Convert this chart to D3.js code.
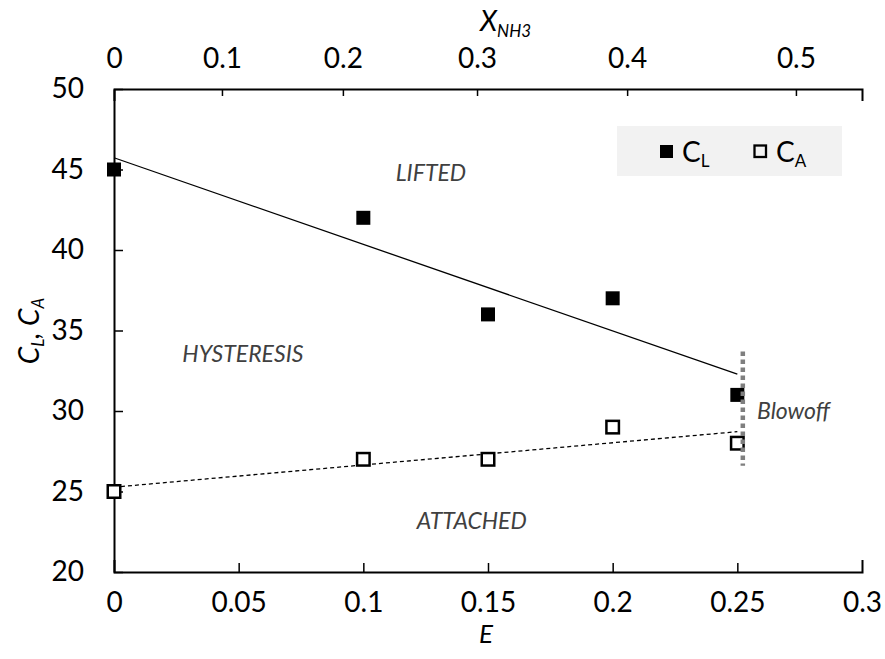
<!DOCTYPE html>
<html>
<head>
<meta charset="utf-8">
<script src="https://cdn.jsdelivr.net/npm/d3@7"></script>
<style>
  html, body { margin: 0; padding: 0; background: #fff; }
  svg { display: block; font-family: Lato, "Open Sans", sans-serif; }
</style>
</head>
<body>
<svg id="chart" width="885" height="659"></svg>
<script>
// ---- data ----
const eValues = [0, 0.1, 0.15, 0.2, 0.25];
const cL = [45, 42, 36, 37, 31];
const cA = [25, 27, 27, 29, 28];
const bottomTicks = [0, 0.05, 0.1, 0.15, 0.2, 0.25, 0.3];
const leftTicks = [20, 25, 30, 35, 40, 45, 50];
const topTickE = [0, 0.0433, 0.0918, 0.1456, 0.2058, 0.2735];   // E position of each X_NH3 tick
const topTickLabels = ["0", "0.1", "0.2", "0.3", "0.4", "0.5"];
const blowoffE = 0.2522;
const blowoffRange = [26.6, 33.7];
const annotations = [
  { text: "LIFTED", e: 0.1271, c: 44.85, anchor: "middle" },
  { text: "HYSTERESIS", e: 0.0517, c: 33.6, anchor: "middle" },
  { text: "ATTACHED", e: 0.1435, c: 23.23, anchor: "middle" },
  { text: "Blowoff", e: 0.2579, c: 30.06, anchor: "start" }
];

// ---- layout ----
const svg = d3.select("#chart");
const pLeft = 114, pRight = 862, pTop = 89, pBottom = 572;
const x = d3.scaleLinear().domain([0, 0.3]).range([pLeft, pRight]);
const y = d3.scaleLinear().domain([20, 50]).range([pBottom, pTop]);

function fit(xs, ys) {
  const mx = d3.mean(xs), my = d3.mean(ys);
  let sxy = 0, sxx = 0;
  xs.forEach((v, i) => { sxy += (v - mx) * (ys[i] - my); sxx += (v - mx) * (v - mx); });
  const b = sxy / sxx;
  return { a: my - b * mx, b };
}

// axes
const gBottom = svg.append("g").attr("transform", `translate(0,${pBottom})`)
  .call(d3.axisBottom(x).tickValues(bottomTicks).tickFormat(d => String(+d.toFixed(2)))
    .tickSizeInner(-9).tickSizeOuter(-12).tickPadding(20));
const gLeft = svg.append("g").attr("transform", `translate(${pLeft},0)`)
  .call(d3.axisLeft(y).tickValues(leftTicks).tickSizeInner(-9).tickSizeOuter(0).tickPadding(30));
const gTop = svg.append("g").attr("transform", `translate(0,${pTop})`)
  .call(d3.axisTop(x).tickValues(topTickE).tickFormat((d, i) => topTickLabels[i])
    .tickSizeInner(-7).tickSizeOuter(-12).tickPadding(21));

[gBottom, gLeft, gTop].forEach(g => {
  g.select(".domain").attr("stroke", "#000").attr("stroke-width", 2);
  g.selectAll(".tick line").attr("stroke", "#000").attr("stroke-width", 1.5);
  g.selectAll(".tick text").attr("fill", "#000").style("font-size", "28px")
    .style("font-family", "Lato, 'Open Sans', sans-serif");
});
gTop.selectAll(".tick").filter((d, i) => i === 0).select("line").remove();
gBottom.selectAll(".tick").filter((d, i) => i === 0 || i === bottomTicks.length - 1).select("line").remove();

// trend lines
const fL = fit(eValues, cL), fA = fit(eValues, cA);
const e0 = d3.min(eValues), e1 = d3.max(eValues);
svg.append("line")
  .attr("x1", x(e0)).attr("y1", y(fL.a + fL.b * e0))
  .attr("x2", x(e1)).attr("y2", y(fL.a + fL.b * e1))
  .attr("stroke", "#000").attr("stroke-width", 1.3);
svg.append("line")
  .attr("x1", x(e0)).attr("y1", y(fA.a + fA.b * e0))
  .attr("x2", x(e1)).attr("y2", y(fA.a + fA.b * e1))
  .attr("stroke", "#000").attr("stroke-width", 1.3).attr("stroke-dasharray", "4,3");

// markers
const s = 14;
svg.append("g").selectAll("rect").data(eValues).join("rect")
  .attr("x", (d) => x(d) - s / 2).attr("y", (d, i) => y(cL[i]) - s / 2)
  .attr("width", s).attr("height", s).attr("fill", "#000");
const so = 12.5;
svg.append("g").selectAll("rect").data(eValues).join("rect")
  .attr("x", (d) => x(d) - so / 2).attr("y", (d, i) => y(cA[i]) - so / 2)
  .attr("width", so).attr("height", so).attr("fill", "#fff")
  .attr("stroke", "#000").attr("stroke-width", 2.5);

// blowoff line
svg.append("line")
  .attr("x1", x(blowoffE)).attr("x2", x(blowoffE))
  .attr("y1", y(blowoffRange[1])).attr("y2", y(blowoffRange[0]))
  .attr("stroke", "#7f7f7f").attr("stroke-width", 4.5).attr("stroke-dasharray", "4.5,3.5");

// annotations
svg.append("g").selectAll("text").data(annotations).join("text")
  .attr("x", d => x(d.e)).attr("y", d => y(d.c))
  .attr("text-anchor", d => d.anchor).attr("dominant-baseline", "central")
  .attr("fill", "#404040").style("font-style", "italic")
  .style("font-size", "23px")
  .text(d => d.text);

// legend
const lg = svg.append("g");
lg.append("rect").attr("x", 617).attr("y", 126).attr("width", 225).attr("height", 50).attr("fill", "#f2f2f2");
lg.append("rect").attr("x", 660).attr("y", 145).attr("width", 13).attr("height", 13).attr("fill", "#000");
lg.append("rect").attr("x", 754.5).attr("y", 145.5).attr("width", 11.5).attr("height", 11.5)
  .attr("fill", "none").attr("stroke", "#000").attr("stroke-width", 2.3);
const t1 = lg.append("text").attr("x", 682).attr("y", 162).style("font-size", "28px").attr("fill", "#000");
t1.append("tspan").text("C");
t1.append("tspan").attr("dy", 5).style("font-size", "17px").text("L");
const t2 = lg.append("text").attr("x", 776).attr("y", 162).style("font-size", "28px").attr("fill", "#000");
t2.append("tspan").text("C");
t2.append("tspan").attr("dy", 5).style("font-size", "17px").text("A");

// axis titles
const tt = svg.append("text").attr("x", 480).attr("y", 31).style("font-size", "28px")
  .style("font-style", "italic").attr("fill", "#000");
tt.append("tspan").text("X");
tt.append("tspan").attr("dy", 6).style("font-size", "17px").text("NH3");

svg.append("text").attr("x", (pLeft + pRight) / 2 - 2).attr("y", 643).attr("text-anchor", "middle")
  .style("font-size", "26px").style("font-style", "italic").attr("fill", "#000").text("E");

const yl = svg.append("text").attr("transform", "translate(39,331) rotate(-90)")
  .attr("text-anchor", "middle").style("font-size", "28px").style("font-style", "italic").attr("fill", "#000");
yl.append("tspan").text("C");
yl.append("tspan").attr("dy", 5).style("font-size", "17px").text("L");
yl.append("tspan").attr("dy", -5).text(", C");
yl.append("tspan").attr("dy", 5).style("font-size", "17px").text("A");
</script>
</body>
</html>
